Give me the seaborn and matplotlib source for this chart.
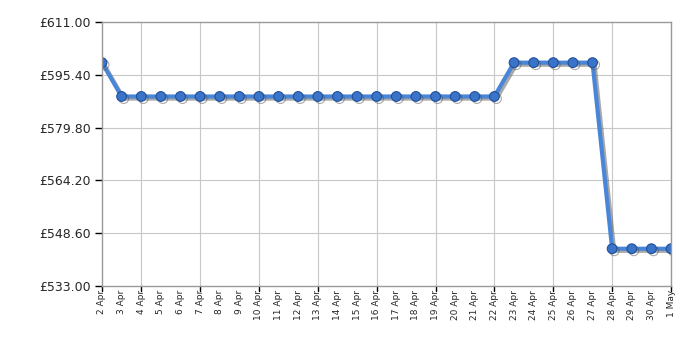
import matplotlib
matplotlib.use("Agg")
import matplotlib.pyplot as plt
import matplotlib.patheffects as pe
import seaborn as sns
import pandas as pd
import numpy as np

dates = ["2 Apr", "3 Apr", "4 Apr", "5 Apr", "6 Apr", "7 Apr", "8 Apr", "9 Apr", "10 Apr",
         "11 Apr", "12 Apr", "13 Apr", "14 Apr", "15 Apr", "16 Apr", "17 Apr", "18 Apr",
         "19 Apr", "20 Apr", "21 Apr", "22 Apr", "23 Apr", "24 Apr", "25 Apr", "26 Apr",
         "27 Apr", "28 Apr", "29 Apr", "30 Apr", "1 May"]
prices = [599.00, 589.00, 589.00, 589.00, 589.00, 589.00, 589.00, 589.00, 589.00,
          589.00, 589.00, 589.00, 589.00, 589.00, 589.00, 589.00, 589.00,
          589.00, 589.00, 589.00, 589.00, 599.00, 599.00, 599.00, 599.00,
          599.00, 544.00, 544.00, 544.00, 544.00]
y_ticks = [533.00, 548.60, 564.20, 579.80, 595.40, 611.00]

sns.set_theme(style="white")
plt.rcParams['font.family'] = ['DejaVu Sans']

df = pd.DataFrame({"idx": np.arange(len(dates)), "price": prices})

fig, ax = plt.subplots(figsize=(7, 3.5), dpi=100)
fig.subplots_adjust(left=0.1457, right=0.9586, top=0.937, bottom=0.183)

sns.lineplot(data=df, x="idx", y="price", ax=ax, color="#4a86d8", linewidth=3,
             marker="o", markersize=7, markerfacecolor="#3a74c8",
             markeredgecolor="#1f4f9a", markeredgewidth=0.8,
             path_effects=[pe.SimpleLineShadow(offset=(1.5, -1.5), shadow_color="#555555", alpha=0.5),
                           pe.Normal()])

ax.set_xlim(0, len(dates) - 1)
ax.set_ylim(y_ticks[0], y_ticks[-1])
ax.set_yticks(y_ticks)
ax.set_yticklabels([f"£{v:.2f}" for v in y_ticks], fontsize=9)
ax.set_xticks(np.arange(len(dates)))
ax.set_xticklabels(dates, rotation=90, fontsize=6.5)
ax.set_xlabel("")
ax.set_ylabel("")

# gridlines at every 3rd date starting at 4 Apr
for i in range(2, len(dates), 3):
    ax.axvline(i, color="#c8c8c8", linewidth=0.8, zorder=0)
for v in y_ticks[1:-1]:
    ax.axhline(v, color="#c8c8c8", linewidth=0.8, zorder=0)

ax.tick_params(axis="x", length=0, pad=3)
ax.tick_params(axis="y", length=5, width=1, color="#000000", pad=3, left=True)
# tick marks on x at grid positions
for i in range(2, len(dates), 3):
    ax.plot([i, i], [0, -0.02], transform=ax.get_xaxis_transform(), color="black",
            linewidth=1, clip_on=False)
ax.plot([0, 0], [0, -0.02], transform=ax.get_xaxis_transform(), color="black",
        linewidth=1, clip_on=False)

for s in ax.spines.values():
    s.set_color("#999999")
    s.set_linewidth(1)
    s.set_visible(True)

fig.savefig("out.png", dpi=100)
